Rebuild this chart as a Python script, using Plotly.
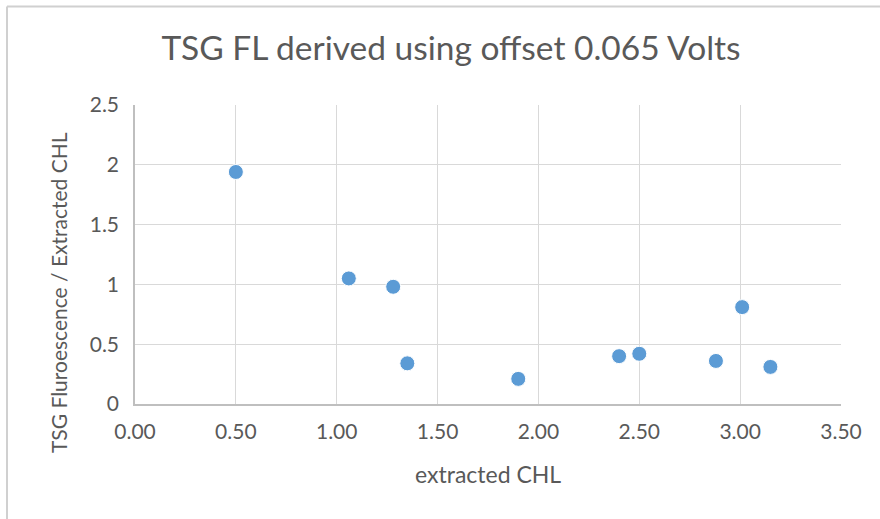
import plotly.graph_objects as go

# extracted CHL vs ratio of TSG fluorescence to extracted CHL
extracted_chl = [0.50, 1.06, 1.28, 1.35, 1.90, 2.40, 2.50, 2.88, 3.01, 3.15]
fl_ratio = [1.94, 1.05, 0.98, 0.34, 0.21, 0.40, 0.42, 0.36, 0.81, 0.31]

x_ticks = [0, 0.5, 1.0, 1.5, 2.0, 2.5, 3.0, 3.5]
y_ticks = [0, 0.5, 1, 1.5, 2, 2.5]

FONT = "Lato, 'Open Sans', sans-serif"
GREY = "#595959"

W, H = 880, 519
L, R, T, B = 135, 39, 105, 115
PW, PH = W - L - R, H - T - B


def px_x(px):
    return (px - L) / PW


def px_y(py):
    return (H - B - py) / PH


fig = go.Figure()

fig.add_trace(go.Scatter(
    x=extracted_chl,
    y=fl_ratio,
    mode="markers",
    marker=dict(size=15, color="#5b9bd5", line=dict(width=1, color="#ffffff")),
    showlegend=False,
))

fig.update_layout(
    width=W, height=H,
    margin=dict(l=L, r=R, t=T, b=B),
    paper_bgcolor="white",
    plot_bgcolor="white",
    font=dict(family=FONT, color=GREY, size=21),
    title=dict(text="TSG FL derived using offset 0.065 Volts",
               x=451 / W, xanchor="center",
               y=1 - 48 / H, yanchor="middle",
               font=dict(size=33.5, color=GREY, family=FONT)),
    xaxis=dict(
        range=[0, 3.5], tickvals=x_ticks, tickformat=".2f",
        showgrid=True, gridcolor="#d9d9d9", gridwidth=1.4,
        showline=True, linecolor="#bfbfbf", linewidth=1.5,
        zeroline=False, ticks="", ticklabelstandoff=8,
    ),
    yaxis=dict(
        range=[0, 2.5], tickvals=y_ticks,
        showgrid=True, gridcolor="#d9d9d9", gridwidth=1.4,
        showline=True, linecolor="#bfbfbf", linewidth=1.5,
        zeroline=False, ticks="", ticklabelstandoff=10,
    ),
    annotations=[
        dict(text="extracted CHL", xref="paper", yref="paper",
             x=px_x(488), y=px_y(474), xanchor="center", yanchor="middle",
             showarrow=False, font=dict(size=23, color=GREY)),
        dict(text="TSG Fluroescence / Extracted CHL", xref="paper", yref="paper",
             x=px_x(58), y=px_y(293), xanchor="center", yanchor="middle",
             textangle=-90, showarrow=False, font=dict(size=21, color=GREY)),
    ],
    shapes=[
        # outer chart frame (only top and left edges fall inside the view)
        dict(type="line", xref="paper", yref="paper",
             x0=px_x(7), x1=px_x(W), y0=px_y(6.5), y1=px_y(6.5),
             line=dict(color="#d0d0d0", width=2)),
        dict(type="line", xref="paper", yref="paper",
             x0=px_x(7), x1=px_x(7), y0=px_y(H), y1=px_y(6.5),
             line=dict(color="#d0d0d0", width=2)),
    ],
)

fig.write_html("out.html", config={"displayModeBar": False},
               post_script="document.body.style.margin='0';")
